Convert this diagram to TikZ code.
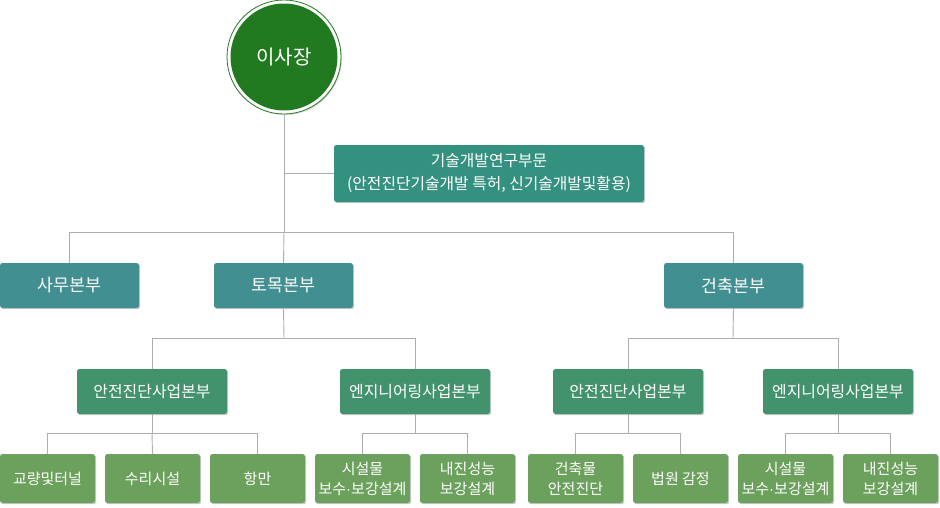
\documentclass[tikz,border=0pt]{standalone}
\usepackage{fontspec}
\setmainfont{Noto Sans CJK KR}
\newfontfamily\latinf{Liberation Sans}
\usetikzlibrary{shadows}
\definecolor{ceoG}{HTML}{217A1F}
\definecolor{resC}{HTML}{35917F}
\definecolor{l1C}{HTML}{428F91}
\definecolor{l2C}{HTML}{43926E}
\definecolor{l3C}{HTML}{6BA15C}
\definecolor{lineC}{HTML}{ADADAD}
\newcommand{\mdot}{{\latinf ·}}
\tikzset{
  boxbase/.style={rectangle, rounded corners=2.5pt, inner sep=0pt, text=white, align=center,
    drop shadow={shadow xshift=1.2pt, shadow yshift=-1.2pt, opacity=0.35, fill=black!60}},
  resbox/.style={boxbase, fill=resC, minimum width=310pt, minimum height=57pt, font=\fontsize{15.8}{23}\selectfont},
  lvlone/.style={boxbase, fill=l1C, minimum width=139pt, minimum height=45pt, font=\fontsize{17.3}{20}\selectfont},
  lvltwo/.style={boxbase, fill=l2C, minimum width=150pt, minimum height=45pt, font=\fontsize{15.9}{19}\selectfont},
  lvlthree/.style={boxbase, fill=l3C, minimum width=95pt, minimum height=49pt, font=\fontsize{15}{20}\selectfont},
  conn/.style={draw=lineC, line width=0.9pt},
}
\begin{document}
\begin{tikzpicture}[x=1pt,y=-1pt]
\useasboundingbox (0,0) rectangle (940,507);
% CEO
\node[circle, minimum size=114pt, inner sep=0pt, draw=ceoG, line width=0.8pt, fill=white,
  drop shadow={shadow xshift=1pt, shadow yshift=-1pt, opacity=0.25, fill=black!60}] (ceo) at (284,57) {};
\node[circle, minimum size=107pt, inner sep=0pt, fill=ceoG, text=white, font=\fontsize{20}{24}\selectfont] (ceoin) at (284,57) {이사장};
% research
\node[resbox] (res) at (489,173.5) {기술개발연구부문\\(안전진단기술개발 특허, 신기술개발및활용)};
% level 1
\node[lvlone] (sam) at (69.5,285.5) {사무본부};
\node[lvlone] (tomok) at (283.5,285.5) {토목본부};
\node[lvlone] (arch) at (733.5,285.5) {건축본부};
% level 2
\node[lvltwo] (tsafe) at (152,391.5) {안전진단사업본부};
\node[lvltwo] (teng) at (415,391.5) {엔지니어링사업본부};
\node[lvltwo] (asafe) at (628,391.5) {안전진단사업본부};
\node[lvltwo] (aeng) at (838,391.5) {엔지니어링사업본부};
% level 3
\node[lvlthree] (b1) at (47.5,478.5) {교량및터널};
\node[lvlthree] (b2) at (152.5,478.5) {수리시설};
\node[lvlthree] (b3) at (257.5,478.5) {항만};
\node[lvlthree] (b4) at (362.5,478.5) {시설물\\보수\mdot 보강설계};
\node[lvlthree] (b5) at (467.5,478.5) {내진성능\\보강설계};
\node[lvlthree] (b6) at (575.5,478.5) {건축물\\안전진단};
\node[lvlthree] (b7) at (680.5,478.5) {법원 감정};
\node[lvlthree] (b8) at (785.5,478.5) {시설물\\보수\mdot 보강설계};
\node[lvlthree] (b9) at (890.5,478.5) {내진성능\\보강설계};
% junctions
\coordinate (j0) at (284,232);
\coordinate (jt) at (284,338);
\coordinate (ja) at (733,338);
\coordinate (jts) at (152,433);
\coordinate (jte) at (415,433);
\coordinate (jas) at (628,433);
\coordinate (jae) at (838,433);
% connectors
\path[conn] (ceo.south) -- (j0);
\path[conn] (ceo.south |- res.west) -- (res.west);
\path[conn] (sam.north) -- (sam.north |- j0) -- (arch.north |- j0) -- (arch.north);
\path[conn] (j0) -- (tomok.north);
\path[conn] (tomok.south) -- (jt);
\path[conn] (tsafe.north) -- (tsafe.north |- jt) -- (teng.north |- jt) -- (teng.north);
\path[conn] (arch.south) -- (ja);
\path[conn] (asafe.north) -- (asafe.north |- ja) -- (aeng.north |- ja) -- (aeng.north);
\path[conn] (tsafe.south) -- (jts);
\path[conn] (b1.north) -- (b1.north |- jts) -- (b3.north |- jts) -- (b3.north);
\path[conn] (jts) -- (b2.north);
\path[conn] (teng.south) -- (jte);
\path[conn] (b4.north) -- (b4.north |- jte) -- (b5.north |- jte) -- (b5.north);
\path[conn] (asafe.south) -- (jas);
\path[conn] (b6.north) -- (b6.north |- jas) -- (b7.north |- jas) -- (b7.north);
\path[conn] (aeng.south) -- (jae);
\path[conn] (b8.north) -- (b8.north |- jae) -- (b9.north |- jae) -- (b9.north);
\end{tikzpicture}
\end{document}
